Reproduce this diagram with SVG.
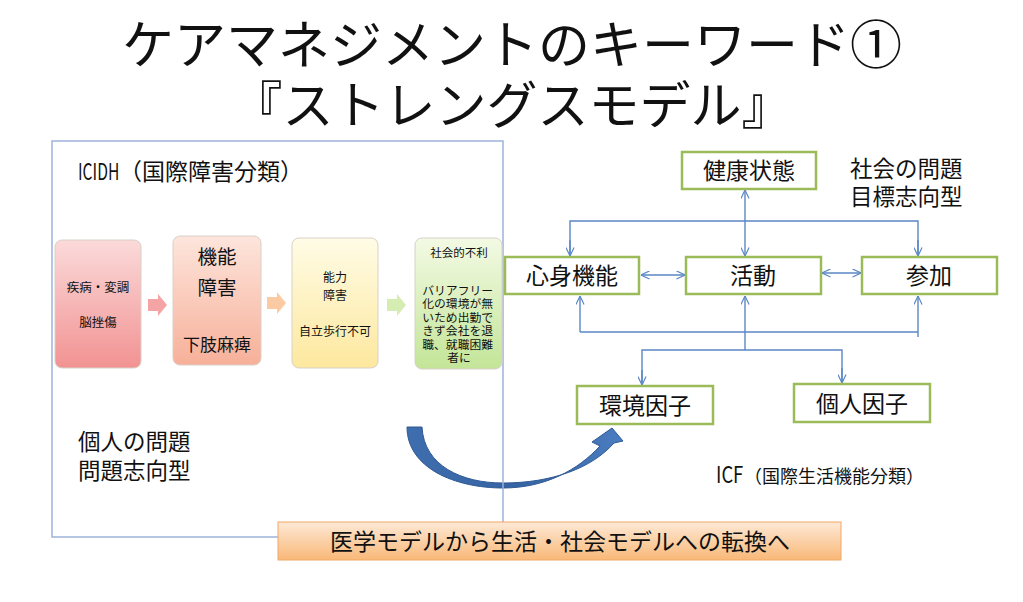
<svg xmlns="http://www.w3.org/2000/svg" width="1023" height="602" viewBox="0 0 1023 602">
<style>
text{font-family:"Noto Sans CJK JP","Noto Sans",sans-serif;fill:#111}
.c{text-anchor:middle}
.gbox{fill:#fff;stroke:#9bbb59;stroke-width:2.5}
.con{fill:none;stroke:#5b87c5;stroke-width:1.4}
.sbox{stroke:#d8d0c8;stroke-width:1}
</style>
<defs>
<marker id="ah" viewBox="0 0 10 10" refX="9.5" refY="5" markerWidth="9" markerHeight="9" markerUnits="userSpaceOnUse" orient="auto-start-reverse">
<path d="M0,0.5 L9.5,5 L0,9.5" fill="none" stroke="#5b87c5" stroke-width="1.3"/>
</marker>
<linearGradient id="gp" x1="0" y1="0" x2="0" y2="1"><stop offset="0" stop-color="#fbdada"/><stop offset="1" stop-color="#f29292"/></linearGradient>
<linearGradient id="go" x1="0" y1="0" x2="0" y2="1"><stop offset="0" stop-color="#fde5dc"/><stop offset="1" stop-color="#f7b099"/></linearGradient>
<linearGradient id="gy" x1="0" y1="0" x2="0" y2="1"><stop offset="0" stop-color="#fffce6"/><stop offset="1" stop-color="#fde89e"/></linearGradient>
<linearGradient id="gg" x1="0" y1="0" x2="0" y2="1"><stop offset="0" stop-color="#f3fae4"/><stop offset="1" stop-color="#c3e598"/></linearGradient>
<linearGradient id="gb" x1="0" y1="0" x2="0" y2="1"><stop offset="0" stop-color="#fde9d6"/><stop offset="1" stop-color="#f9b878"/></linearGradient>
<linearGradient id="ga" x1="0" y1="0" x2="1" y2="0"><stop offset="0" stop-color="#3f6eae"/><stop offset="0.5" stop-color="#3563a3"/><stop offset="1" stop-color="#4a7dc0"/></linearGradient>
</defs>

<g id="title">
<text class="c" x="512" y="64" font-size="52">ケアマネジメントのキーワード①</text>
<text class="c" x="512" y="124" font-size="51">『ストレングスモデル』</text>
</g>

<g id="transition-arrow">
<path d="M407,427 C407,468 455,488 503,488 C545,488 578,470 600,446 L592,442 L612,428 L623,441 L614,443 C592,468 552,483 503,483 C462,483 424,466 422,427 Z" fill="url(#ga)" stroke="#2f5a93" stroke-width="1"/>
</g>

<g id="icidh-frame">
<rect x="52" y="141" width="451" height="396" fill="none" stroke="#9db3da" stroke-width="1.5"/>
<text transform="translate(78,180) scale(0.68,1)" font-size="23">ICIDH</text>
<text x="119" y="180" font-size="23">（国際障害分類）</text>
</g>

<g id="icidh-arrows">
<path d="M148,299 L158,299 L158,294 L167,305 L158,316 L158,311 L148,311 Z" fill="#f4a4a4"/>
<path d="M267,297 L277,297 L277,292 L286,303 L277,314 L277,309 L267,309 Z" fill="#fbcaa2"/>
<path d="M387,299 L397,299 L397,294 L406,305 L397,316 L397,311 L387,311 Z" fill="#d5edb3"/>
</g>

<g id="box-disease">
<rect class="sbox" x="55" y="240" width="86" height="128" rx="7" fill="url(#gp)"/>
<text class="c" x="98" y="292" font-size="12.5">疾病・変調</text>
<text class="c" x="98" y="327" font-size="12.5">脳挫傷</text>
</g>

<g id="box-impairment">
<rect class="sbox" x="173" y="236" width="88" height="129" rx="7" fill="url(#go)"/>
<text class="c" x="217" y="264" font-size="19.5">機能</text>
<text class="c" x="217" y="295" font-size="19.5">障害</text>
<text class="c" x="217" y="351" font-size="17">下肢麻痺</text>
</g>

<g id="box-disability">
<rect class="sbox" x="292" y="238" width="86" height="130" rx="7" fill="url(#gy)"/>
<text class="c" x="335" y="282" font-size="12">能力</text>
<text class="c" x="335" y="300" font-size="12">障害</text>
<text class="c" x="335" y="336" font-size="12">自立歩行不可</text>
</g>

<g id="box-handicap">
<rect class="sbox" x="415" y="238" width="87" height="131" rx="7" fill="url(#gg)"/>
<text class="c" x="459" y="257" font-size="11.5">社会的不利</text>
<text class="c" font-size="11.8">
<tspan x="459" y="294.5">バリアフリー</tspan>
<tspan x="459" y="308">化の環境が無</tspan>
<tspan x="459" y="321.5">いため出勤で</tspan>
<tspan x="459" y="335">きず会社を退</tspan>
<tspan x="459" y="348.5">職、就職困難</tspan>
<tspan x="459" y="362">者に</tspan>
</text>
</g>

<g id="label-individual">
<text x="78" y="450" font-size="22.5">個人の問題</text>
<text x="78" y="479" font-size="22.5">問題志向型</text>
</g>

<g id="label-social">
<text x="850" y="177" font-size="22.5">社会の問題</text>
<text x="850" y="205" font-size="22.5">目標志向型</text>
</g>

<g id="connectors">
<line class="con" x1="745" y1="190" x2="745" y2="256" marker-start="url(#ah)" marker-end="url(#ah)"/>
<polyline class="con" points="570,256 570,221 918,221 918,256" />
<line class="con" x1="570" y1="240" x2="570" y2="256" marker-end="url(#ah)"/>
<line class="con" x1="918" y1="240" x2="918" y2="256" marker-end="url(#ah)"/>
<line class="con" x1="641" y1="275" x2="685" y2="275" marker-start="url(#ah)" marker-end="url(#ah)"/>
<line class="con" x1="822" y1="273" x2="861" y2="273" marker-start="url(#ah)" marker-end="url(#ah)"/>
<line class="con" x1="580" y1="332" x2="918" y2="332"/>
<line class="con" x1="580" y1="332" x2="580" y2="296" marker-end="url(#ah)"/>
<line class="con" x1="745" y1="350" x2="745" y2="296" marker-end="url(#ah)"/>
<line class="con" x1="918" y1="337" x2="918" y2="296" marker-end="url(#ah)"/>
<polyline class="con" points="642,385 642,350 842,350 842,383"/>
<line class="con" x1="642" y1="370" x2="642" y2="385" marker-end="url(#ah)"/>
<line class="con" x1="842" y1="368" x2="842" y2="383" marker-end="url(#ah)"/>
</g>

<g id="node-health">
<rect class="gbox" x="682" y="152" width="134" height="37"/>
<text class="c" x="749" y="179" font-size="23">健康状態</text>
</g>
<g id="node-body">
<rect class="gbox" x="505" y="257" width="134" height="37"/>
<text class="c" x="572" y="284" font-size="23">心身機能</text>
</g>
<g id="node-activity">
<rect class="gbox" x="686" y="257" width="135" height="37"/>
<text class="c" x="753" y="284" font-size="23">活動</text>
</g>
<g id="node-participation">
<rect class="gbox" x="862" y="257" width="135" height="37"/>
<text class="c" x="929" y="284" font-size="23">参加</text>
</g>
<g id="node-environment">
<rect class="gbox" x="577" y="386" width="136" height="38"/>
<text class="c" x="645" y="414" font-size="23">環境因子</text>
</g>
<g id="node-personal">
<rect class="gbox" x="794" y="384" width="136" height="38"/>
<text class="c" x="862" y="412" font-size="23">個人因子</text>
</g>

<g id="label-icf">
<text transform="translate(716,483) scale(0.8,1)" font-size="23">ICF</text>
<text x="744" y="483" font-size="18">（国際生活機能分類）</text>
</g>

<g id="banner">
<rect x="278" y="522" width="563" height="38" fill="url(#gb)" stroke="#f0a868" stroke-width="1"/>
<text class="c" x="560" y="550" font-size="23">医学モデルから生活・社会モデルへの転換へ</text>
</g>
</svg>
